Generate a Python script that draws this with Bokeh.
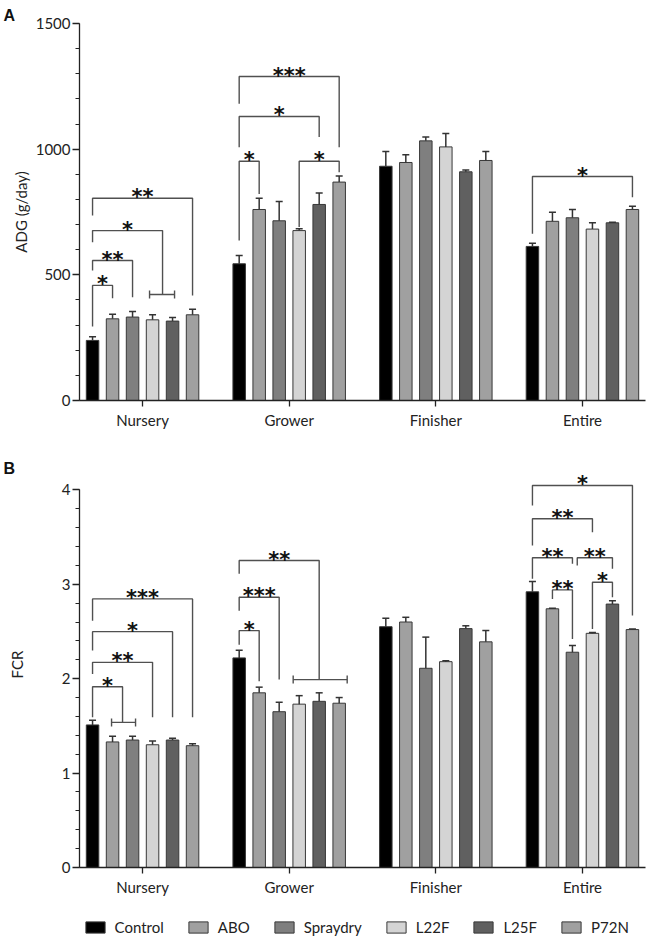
from bokeh.plotting import figure
from bokeh.models import (ColumnDataSource, Whisker, TeeHead, Legend, LegendItem,
                          FixedTicker, SingleIntervalTicker, Range1d)
from bokeh.layouts import column
from bokeh.core.properties import value
from bokeh.embed import file_html
from bokeh.resources import INLINE

# ---------------- data ----------------
groups = ["Nursery", "Grower", "Finisher", "Entire"]
treatments = ["Control", "ABO", "Spraydry", "L22F", "L25F", "P72N"]

adg_control = [239, 544, 932, 613]
adg_abo = [325, 760, 947, 713]
adg_spraydry = [332, 715, 1033, 727]
adg_l22f = [321, 676, 1009, 682]
adg_l25f = [316, 780, 910, 707]
adg_p72n = [341, 869, 955, 760]

adg_sem_control = [15, 33, 59, 13]
adg_sem_abo = [18, 45, 31, 36]
adg_sem_spraydry = [22, 77, 15, 33]
adg_sem_l22f = [20, 7, 53, 25]
adg_sem_l25f = [14, 46, 7, 2]
adg_sem_p72n = [22, 24, 36, 13]

fcr_control = [1.51, 2.22, 2.55, 2.92]
fcr_abo = [1.33, 1.85, 2.60, 2.74]
fcr_spraydry = [1.35, 1.65, 2.11, 2.28]
fcr_l22f = [1.30, 1.73, 2.18, 2.48]
fcr_l25f = [1.35, 1.76, 2.53, 2.79]
fcr_p72n = [1.29, 1.74, 2.39, 2.52]

fcr_sem_control = [0.05, 0.08, 0.09, 0.11]
fcr_sem_abo = [0.06, 0.06, 0.05, 0.005]
fcr_sem_spraydry = [0.04, 0.10, 0.33, 0.07]
fcr_sem_l22f = [0.04, 0.09, 0.01, 0.01]
fcr_sem_l25f = [0.02, 0.09, 0.03, 0.035]
fcr_sem_p72n = [0.02, 0.06, 0.12, 0.005]

# significance brackets (group, from-bar, to-bar, top, left-leg end, right-leg end, label)
adg_br_group = [0, 0, 0, 0, 1, 1, 1, 1, 3]
adg_br_from = [0, 0, 0, 0, 0, 0, 0, 3, 0]
adg_br_to = [5, 3.5, 2, 1, 5, 4, 1, 5, 5]
adg_br_top = [805, 676, 557, 458, 1289, 1130, 952, 952, 891]
adg_br_lend = [736, 630, 517, 294, 1181, 1008, 637, 690, 663]
adg_br_rend = [418, 422, 411, 407, 1008, 1048, 822, 908, 809]
adg_br_stars = ["**", "*", "**", "*", "***", "*", "*", "*", "*"]
adg_span_group = [0]
adg_span_from = [2.85]
adg_span_to = [4.1]
adg_span_y = [422]

fcr_br_group = [0, 0, 0, 0, 1, 1, 1, 3, 3, 3, 3, 3, 3]
fcr_br_from = [0, 0, 0, 0, 0, 0, 0, 0, 0, 0, 2.24, 1, 3]
fcr_br_to = [5, 4, 3, 1.5, 4, 2, 1, 5, 3, 2, 4, 2, 4]
fcr_br_top = [2.845, 2.498, 2.173, 1.915, 3.251, 2.862, 2.509, 4.046, 3.693, 3.280, 3.280, 2.94, 3.021]
fcr_br_lend = [2.614, 2.297, 2.05, 1.59, 3.11, 2.72, 2.36, 3.834, 3.41, 3.057, 3.198, 2.845, 2.527]
fcr_br_rend = [1.59, 1.59, 1.59, 1.537, 1.99, 1.99, 1.972, 2.668, 3.552, 3.216, 3.163, 2.421, 2.862]
fcr_br_stars = ["***", "*", "**", "*", "**", "***", "*", "*", "**", "**", "**", "**", "*"]
fcr_span_group = [0, 1]
fcr_span_from = [0.95, 2.7]
fcr_span_to = [2.15, 5.4]
fcr_span_y = [1.537, 1.99]

# ---------------- style ----------------
bar_colors = ["#000000", "#a0a0a0", "#7f7f7f", "#d4d4d4", "#606060", "#a0a0a0"]
BAR_LINE = "#383838"
FONT = "Lato"
AX = "#222222"
BR = "#505050"
X_START, X_END = -0.43, 3.43
W = 649
LEFT = 79
RIGHT = 4
FRAME_W = W - LEFT - RIGHT
PX_PER_X = FRAME_W / (X_END - X_START)
SLOT = 20.0 / PX_PER_X
BAR_W = 12.5 / PX_PER_X


def xpos(g, s):
    return g + (s - 2.5) * SLOT


def make_panel(means, sems, br, span, y_end, y_bound, major, ylabel, letter,
               height, top, bottom, label_standoff, title_standoff):
    p = figure(width=W, height=height, x_range=Range1d(X_START, X_END),
               y_range=Range1d(0, y_end), output_backend="svg",
               toolbar_location=None, title=letter,
               min_border_left=LEFT, min_border_right=RIGHT,
               min_border_top=top, min_border_bottom=bottom)
    p.outline_line_color = None
    p.xgrid.visible = False
    p.ygrid.visible = False
    p.background_fill_color = "white"
    p.border_fill_color = "white"

    p.title.align = "left"
    p.title.offset = -76
    p.title.standoff = title_standoff
    p.title.text_font = "Liberation Sans"
    p.title.text_font_style = "bold"
    p.title.text_font_size = "16px"
    p.title.text_color = "#111111"

    for i, (m, s) in enumerate(zip(means, sems)):
        src = ColumnDataSource(dict(
            x=[xpos(g, i) for g in range(len(groups))],
            top=m,
            upper=[a + b for a, b in zip(m, s)],
        ))
        p.vbar(x="x", top="top", width=BAR_W, source=src,
               fill_color=bar_colors[i], line_color=BAR_LINE, line_width=1)
        wk = Whisker(source=src, base="x", lower="top", upper="upper",
                     line_color="#333333", line_width=1.5,
                     upper_head=TeeHead(size=7, line_color="#333333", line_width=1.5),
                     lower_head=None, level="glyph")
        p.add_layout(wk)

    g_, f_, t_, top_, le_, re_, st_ = br
    xs, ys, tx, ty = [], [], [], []
    for g, f, t, yt, yl, yr in zip(g_, f_, t_, top_, le_, re_):
        x0, x1 = xpos(g, f), xpos(g, t)
        xs.append([x0, x0, x1, x1])
        ys.append([yl, yt, yt, yr])
        tx.append((x0 + x1) / 2)
        ty.append(yt)
    p.multi_line(xs=xs, ys=ys, line_color=BR, line_width=1.4)
    p.text(x=tx, y=ty, text=st_, text_align="center", text_baseline="alphabetic",
           y_offset=-1, text_font=value("DejaVu Sans"), text_font_style="bold",
           text_font_size="21px", text_color="#111111")

    sg, sf, stt, sy = span
    ssrc = ColumnDataSource(dict(y=sy, x0=[xpos(g, f) for g, f in zip(sg, sf)],
                                 x1=[xpos(g, t) for g, t in zip(sg, stt)]))
    p.add_layout(Whisker(source=ssrc, dimension="width", base="y", lower="x0", upper="x1",
                         line_color=BR, line_width=1.4,
                         upper_head=TeeHead(size=8, line_color=BR, line_width=1.4),
                         lower_head=TeeHead(size=8, line_color=BR, line_width=1.4),
                         level="glyph"))

    # axes
    xa = p.xaxis[0]
    xa.ticker = FixedTicker(ticks=list(range(len(groups))), minor_ticks=[])
    xa.major_label_overrides = {i: g for i, g in enumerate(groups)}
    xa.axis_line_color = AX
    xa.axis_line_width = 1.3
    xa.major_tick_line_color = AX
    xa.major_tick_line_width = 1.3
    xa.major_tick_out = 6
    xa.major_tick_in = 0
    xa.minor_tick_line_color = None
    xa.major_label_text_font = FONT
    xa.major_label_text_font_size = "15px"
    xa.major_label_text_color = AX
    xa.major_label_standoff = 4

    ya = p.yaxis[0]
    ya.ticker = SingleIntervalTicker(interval=major, num_minor_ticks=5)
    ya.bounds = (0, y_bound)
    ya.axis_line_color = AX
    ya.axis_line_width = 1.3
    ya.major_tick_line_color = AX
    ya.major_tick_line_width = 1.3
    ya.minor_tick_line_color = AX
    ya.minor_tick_line_width = 1.1
    ya.major_tick_out = 7
    ya.major_tick_in = 0
    ya.minor_tick_out = 4
    ya.minor_tick_in = 0
    ya.major_label_text_font = FONT
    ya.major_label_text_font_size = "15px"
    ya.major_label_text_color = AX
    ya.major_label_standoff = 2
    ya.axis_label = ylabel
    ya.axis_label_text_font = FONT
    ya.axis_label_text_font_size = "15px"
    ya.axis_label_text_font_style = "normal"
    ya.axis_label_text_color = AX
    ya.axis_label_standoff = label_standoff
    return p


pa = make_panel(
    [adg_control, adg_abo, adg_spraydry, adg_l22f, adg_l25f, adg_p72n],
    [adg_sem_control, adg_sem_abo, adg_sem_spraydry, adg_sem_l22f, adg_sem_l25f, adg_sem_p72n],
    (adg_br_group, adg_br_from, adg_br_to, adg_br_top, adg_br_lend, adg_br_rend, adg_br_stars),
    (adg_span_group, adg_span_from, adg_span_to, adg_span_y),
    1500, 1500, 500, "ADG (g/day)", "A", 440, 23, 40, 3, 0)

pb = make_panel(
    [fcr_control, fcr_abo, fcr_spraydry, fcr_l22f, fcr_l25f, fcr_p72n],
    [fcr_sem_control, fcr_sem_abo, fcr_sem_spraydry, fcr_sem_l22f, fcr_sem_l25f, fcr_sem_p72n],
    (fcr_br_group, fcr_br_from, fcr_br_to, fcr_br_top, fcr_br_lend, fcr_br_rend, fcr_br_stars),
    (fcr_span_group, fcr_span_from, fcr_span_to, fcr_span_y),
    4.3, 4, 1, "FCR", "B", 465, 21, 38, 33, -30)

# legend strip (helper renderers sit outside the visible range; only their legend swatches show)
pl = figure(width=W, height=35, x_range=Range1d(0, 1), y_range=Range1d(0, 1),
            x_axis_type=None, y_axis_type=None, toolbar_location=None,
            output_backend="svg", min_border=0)
pl.outline_line_color = None
pl.grid.visible = False
hidden = ColumnDataSource(dict(x=[-5.0], top=[0.0]))
leg_renderers = [pl.vbar(x="x", top="top", width=0.01, source=hidden, fill_color=c,
                         line_color=BAR_LINE, line_width=1)
                 for c in bar_colors]
lg = Legend(items=[LegendItem(label=t, renderers=[r]) for t, r in zip(treatments, leg_renderers)],
            orientation="horizontal", location=(3.6, 4),
            border_line_color=None, background_fill_alpha=0, padding=0, margin=0,
            spacing=22, glyph_width=24, glyph_height=14, label_standoff=8,
            label_height=14, label_text_font=FONT, label_text_font_size="15px",
            label_text_color=AX)
pl.add_layout(lg, "center")

layout = column(pa, pb, pl, spacing=0)
open("out.html", "w").write(file_html(layout, INLINE))
